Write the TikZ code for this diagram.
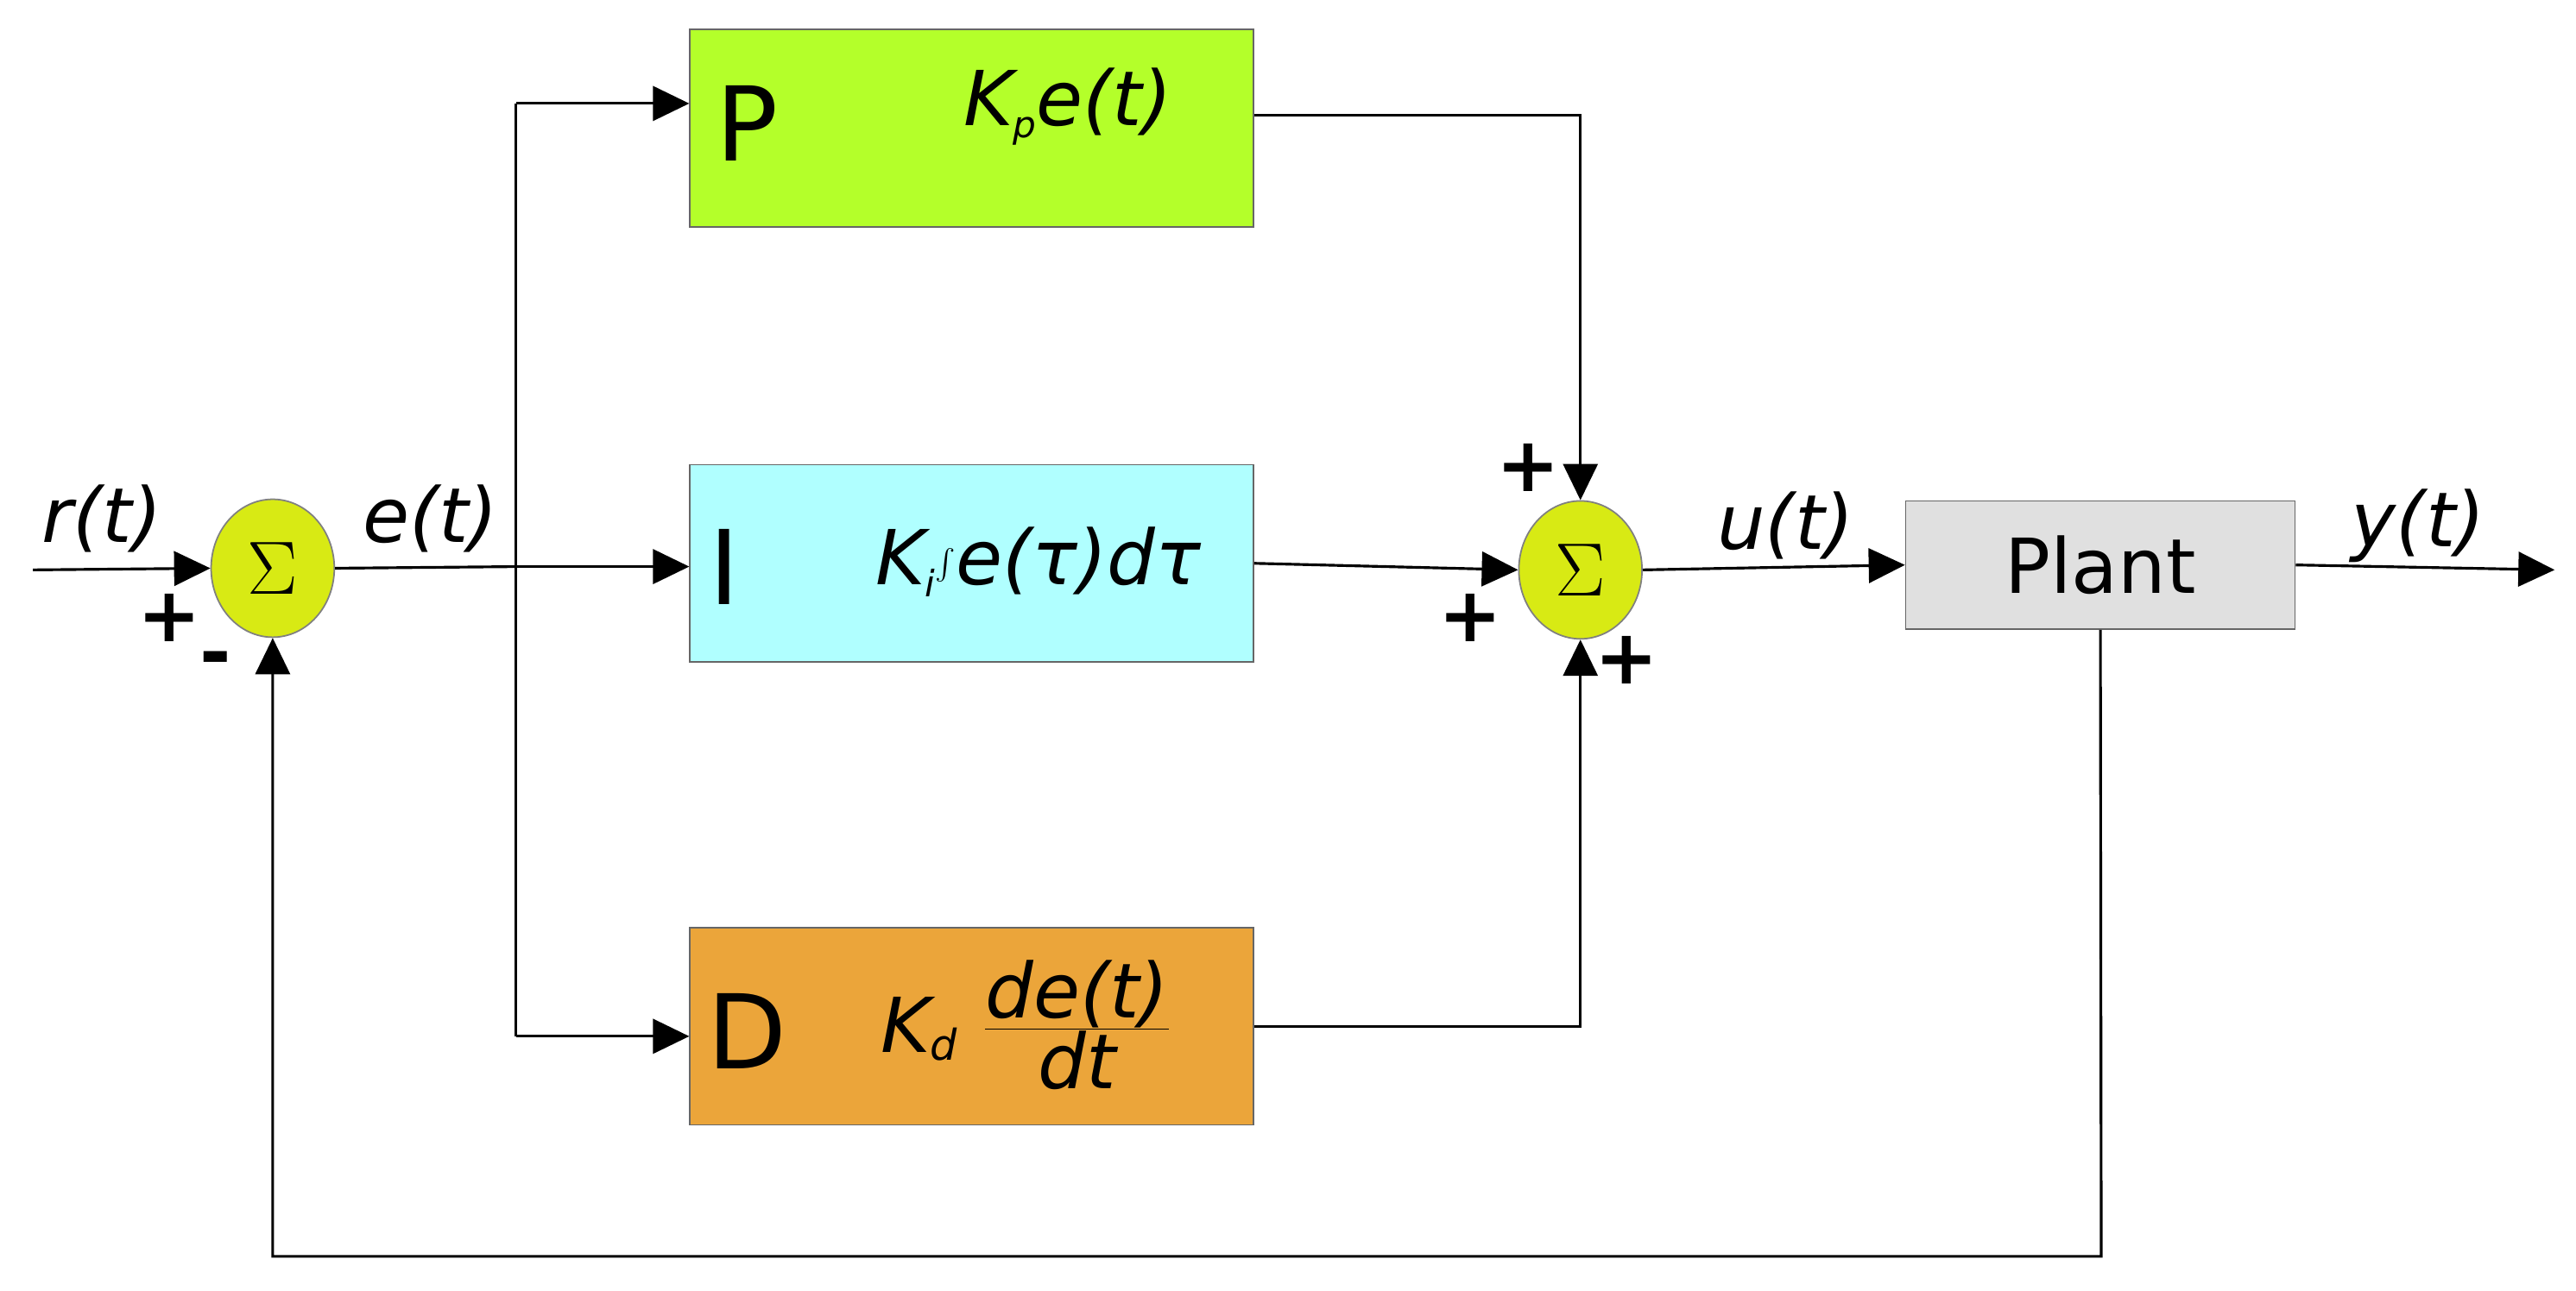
\documentclass[tikz,border=0pt]{standalone}
\usepackage{fontspec}
\setmainfont{DejaVu Sans}
\usetikzlibrary{arrows.meta,shapes.geometric}
\begin{document}
\begin{tikzpicture}[x=0.01903cm,y=-0.01903cm,
  line width=0.9pt,
  arr/.style={-{Triangle[length=0.42cm,width=0.4cm]}},
  blk/.style={draw=black!60,line width=0.5pt,minimum width=343*0.01903cm,minimum height=120*0.01903cm,inner sep=0pt},
  sum/.style={ellipse,draw=black!50,line width=0.5pt,fill={rgb,255:red,216;green,234;blue,20},minimum width=75*0.01903cm,minimum height=84*0.01903cm,inner sep=0pt,font=\fontsize{30}{30}\selectfont},
  lab/.style={font=\fontsize{25}{25}\selectfont\itshape},
  sg/.style={font=\fontsize{25}{25}\selectfont\bfseries},
  big/.style={font=\fontsize{34}{34}\selectfont}]
\useasboundingbox (0,0) rectangle (1568,786);
\definecolor{pcol}{RGB}{180,255,42}
\definecolor{icol}{RGB}{176,255,255}
\definecolor{dcol}{RGB}{235,165,58}
\definecolor{plcol}{RGB}{224,224,224}
\node[sum] (s1) at (166,346) {$\Sigma$};
\node[sum] (s2) at (962,347) {$\Sigma$};
\node[blk,fill=pcol] (P) at (591.5,78) {};
\node[blk,fill=icol] (I) at (591.5,343) {};
\node[blk,fill=dcol] (D) at (591.5,625) {};
\node[draw=black!60,line width=0.5pt,fill=plcol,minimum width=237*0.01903cm,minimum height=78*0.01903cm,font=\fontsize{25}{25}\selectfont] (pl) at (1278.5,344) {Plant};
\node[big] at (455,75) {P};
\node[big] at (441,345) {I};
\node[big] at (455,628) {D};
\node[lab] at (650,65) {K\raisebox{-0.3ex}{\fontsize{12}{12}\selectfont p}e(t)};
\node[lab] at (632,342) {K\raisebox{-0.3ex}{\fontsize{12}{12}\selectfont i}$\int$e(τ)dτ};
\node[lab] at (625,624) {K\raisebox{-0.2ex}{\fontsize{14}{14}\selectfont d} \raisebox{0.1ex}{$\frac{\textit{de(t)}}{\textit{dt}}$}};
\coordinate (in) at (20,347);
\coordinate (out) at (1555,347);
\coordinate (br) at (314,345);
\coordinate (bt) at (314,63);
\coordinate (bb) at (314,631);
\draw[arr] (in) -- (s1.west);
\draw (s1.east) -- (br);
\draw (bt) -- (bb);
\draw[arr] (bt) -- (P.west |- bt);
\draw[arr] (br) -- (I.west |- br);
\draw[arr] (bb) -- (D.west |- bb);
\draw[arr] (P.east |- 0,70) -| (s2.north);
\draw[arr] (I.east) -- (s2.west);
\draw[arr] (D.east |- 0,625) -| (s2.south);
\draw[arr] (s2.east) -- (pl.west);
\draw[arr] (pl.east) -- (out);
\draw[arr] (pl.south) -- (1279,765) -| (s1.south);
\node[lab] at (62,316) {r(t)};
\node[lab] at (262,316) {e(t)};
\node[lab] at (1087,320) {u(t)};
\node[lab] at (1472,320) {y(t)};
\node[sg] at (103,376) {+};
\node[sg] at (131,405) {-};
\node[sg] at (930,285) {+};
\node[sg] at (895,376) {+};
\node[sg] at (990,402) {+};
\end{tikzpicture}
\end{document}
